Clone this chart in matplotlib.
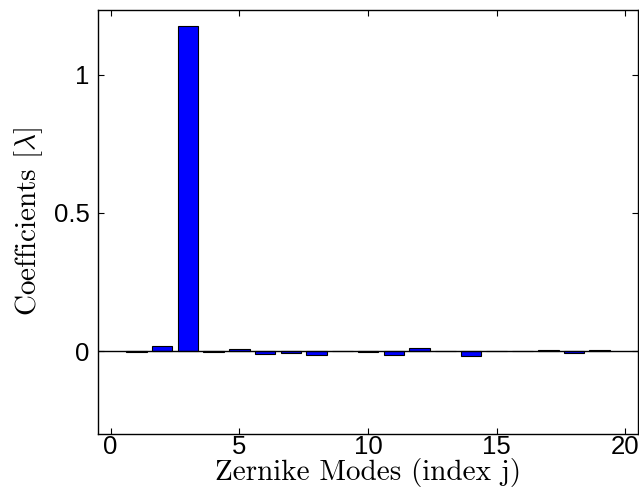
import matplotlib.pyplot as plt
import numpy as np

plt.rcParams['mathtext.fontset'] = 'cm'

# Zernike mode index and fitted coefficient (in waves)
modes = np.arange(1, 20)
coeffs = [-0.002, 0.020, 1.175, -0.002, 0.008, -0.009, -0.006, -0.015, 0.002,
          -0.005, -0.015, 0.012, -0.001, -0.018, 0.002, -0.001, 0.004, -0.007, 0.004]

fig = plt.figure(figsize=(6.39, 4.92), dpi=100)
ax = fig.add_axes([0.153, 0.118, 0.846, 0.862])

ax.bar(modes, coeffs, width=0.8, color='#0000ff', edgecolor='black', linewidth=0.8, zorder=2)
ax.axhline(0, color='black', linewidth=1.0, zorder=3)

ax.set_xlim([-0.5, 20.5])
ax.set_ylim([-0.3, 1.235])
ax.set_xticks([0, 5, 10, 15, 20])
ax.set_yticks([0, 0.5, 1])
ax.set_yticklabels(['0', '0.5', '1'])
ax.tick_params(direction='in', top=True, right=True, length=4, width=0.8,
               labelsize=18.5)
ax.tick_params(axis='x', pad=1)
ax.tick_params(axis='y', pad=6)
for lbl in ax.get_xticklabels() + ax.get_yticklabels():
    lbl.set_family('Liberation Sans')
for s in ax.spines.values():
    s.set_linewidth(1.0)

ax.set_xlabel('Zernike Modes (index j)', family='cmr10', fontsize=21, labelpad=-1)
ax.set_ylabel(r'Coefficients [$\lambda$]', family='cmr10', fontsize=21, labelpad=6)

fig.savefig('out.png', dpi=100)
